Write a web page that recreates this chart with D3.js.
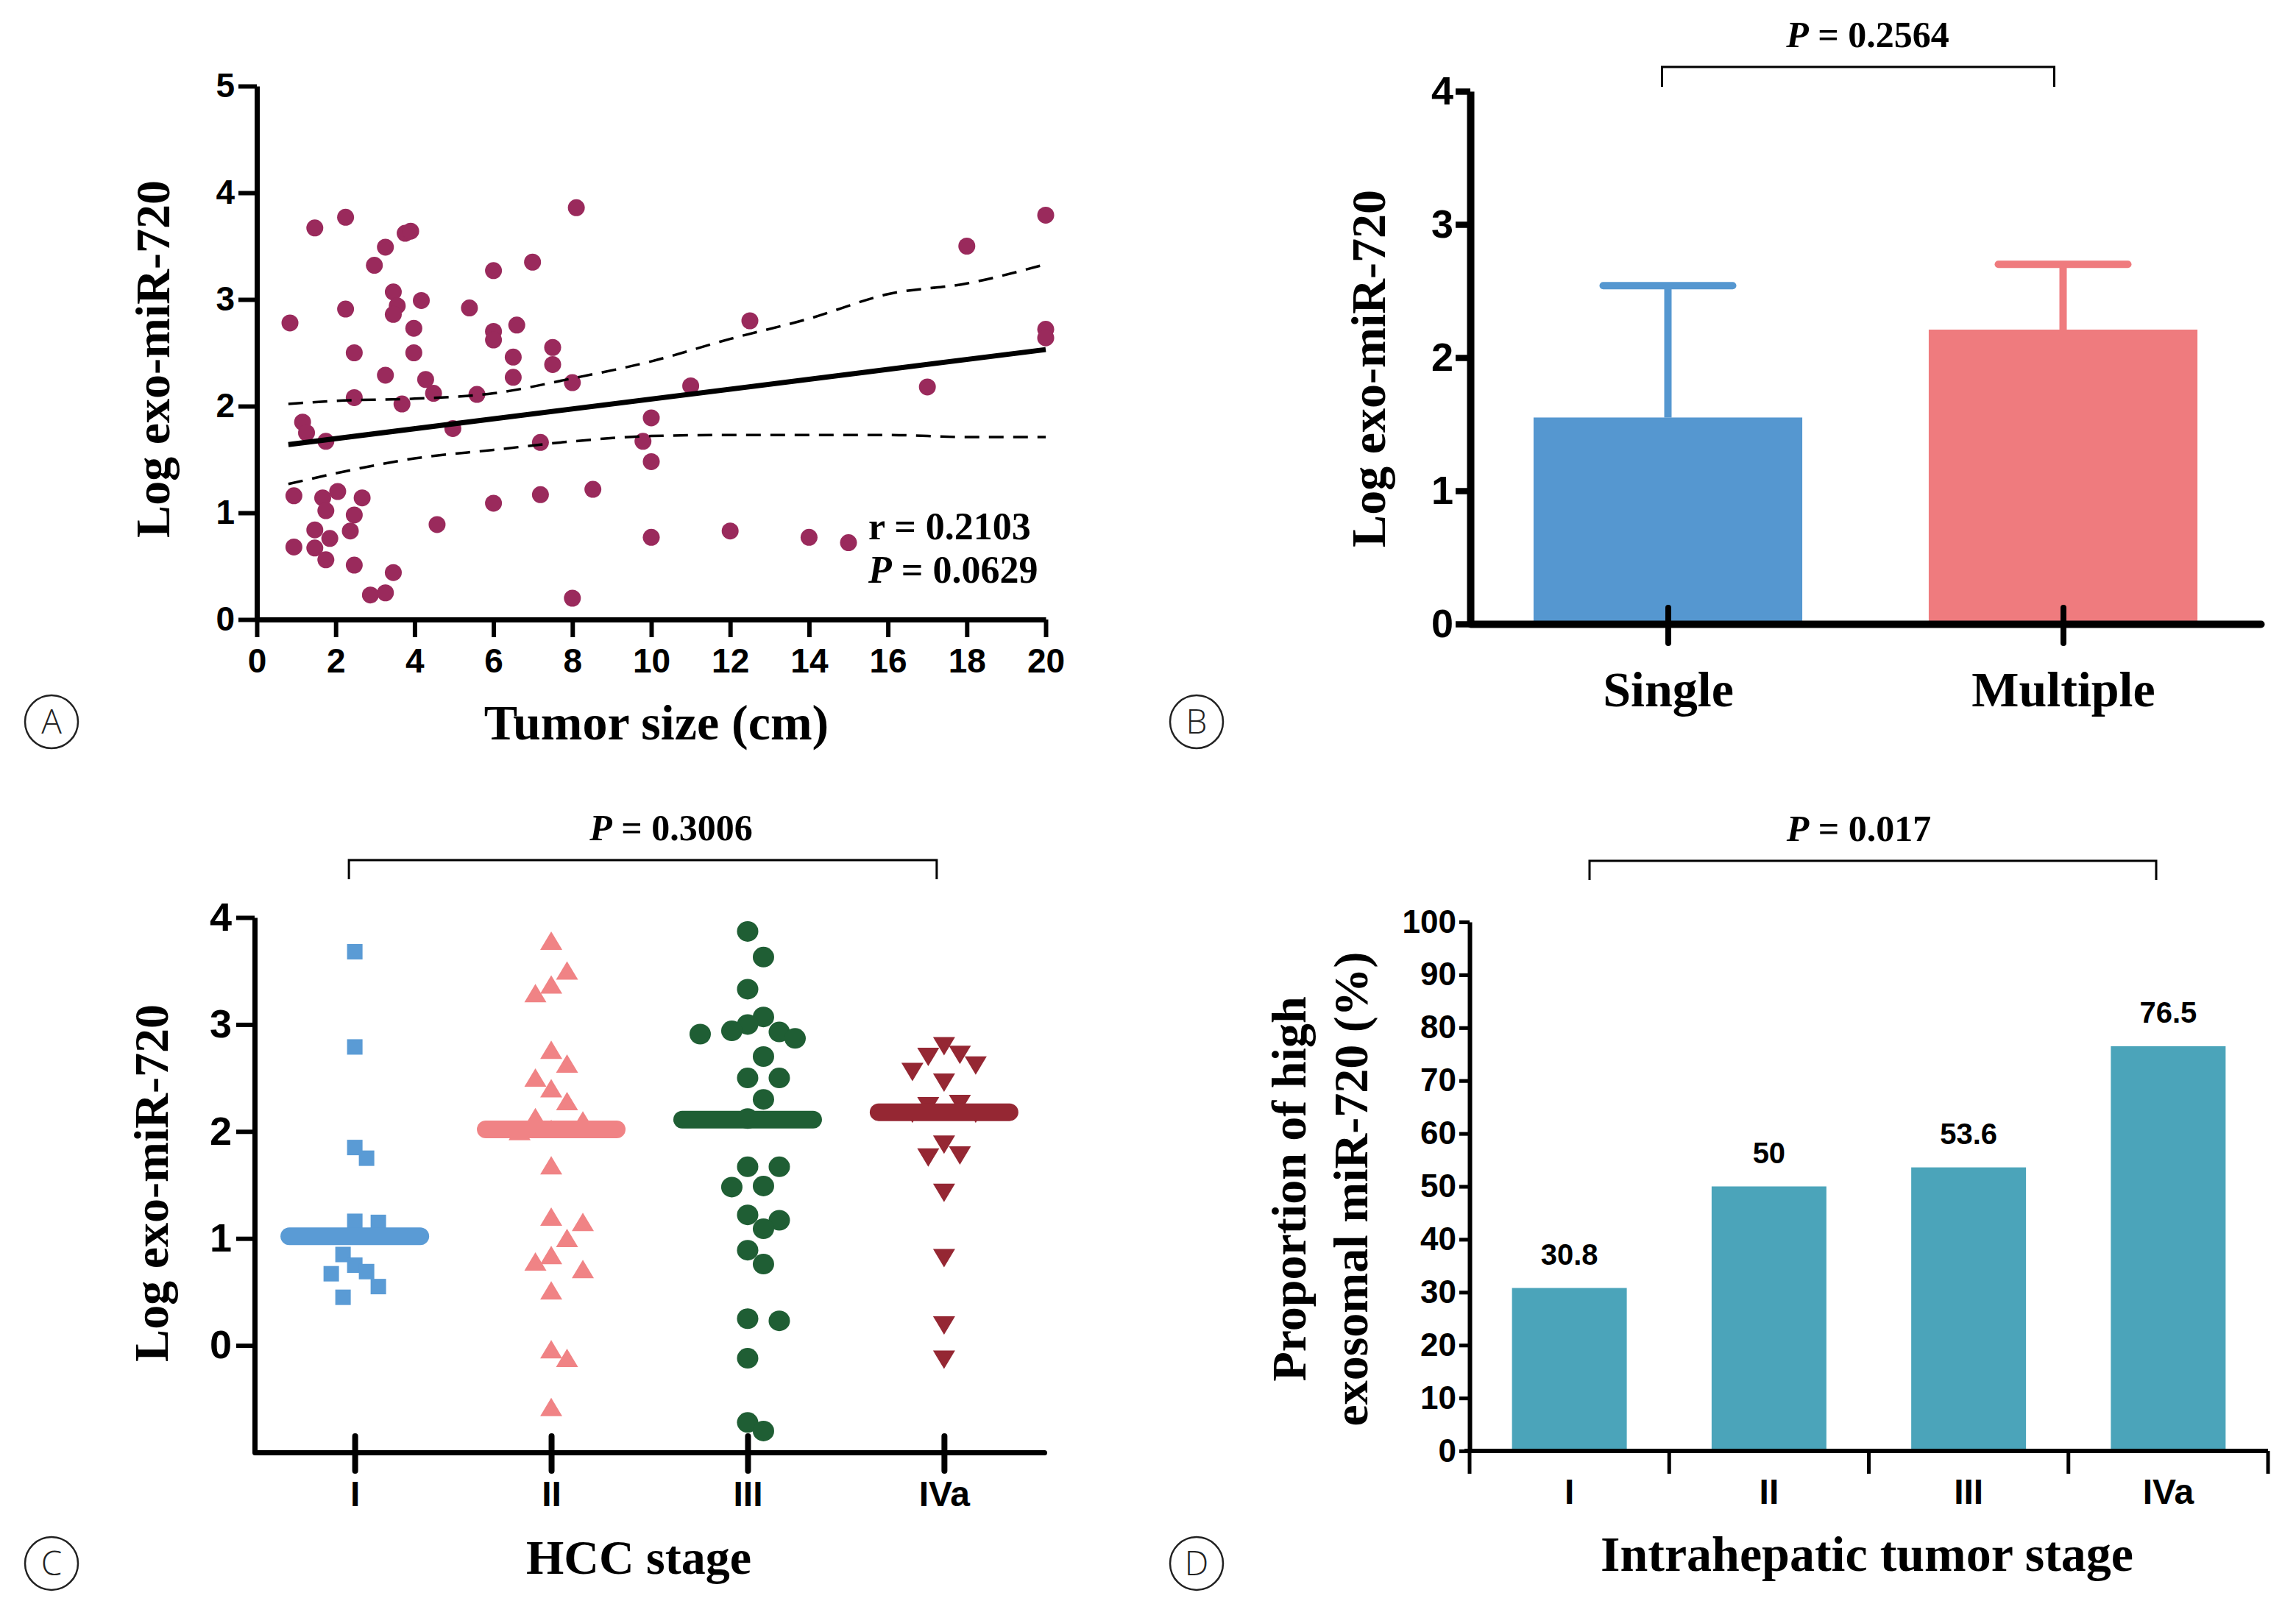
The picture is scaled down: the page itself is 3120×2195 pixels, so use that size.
<!DOCTYPE html>
<html>
<head>
<meta charset="utf-8">
<script src="https://cdn.jsdelivr.net/npm/d3@7"></script>
<style>
body { margin: 0; background: #fff; }
</style>
</head>
<body>
<div id="chart"></div>
<script>
// ---- panel A : tumor size vs log exo-miR-720
var tumorSize = [0.84, 1.47, 2.25, 2.25, 2.98, 3.26, 3.76, 3.9, 3.46, 3.56, 3.46, 4.17, 3.98, 3.98, 2.47, 3.26,
  2.47, 3.68, 4.28, 4.48, 5.39, 5.58, 4.97, 6.0, 6.0, 6.0, 6.59, 6.5, 6.5, 6.99, 7.5, 7.5, 8.0, 8.1, 7.19, 7.19,
  8.52, 6.0, 4.57, 8.0, 1.16, 1.26, 1.75, 0.94, 0.94, 1.67, 1.75, 2.05, 1.47, 1.47, 1.85, 1.75, 2.47, 2.67, 2.37,
  2.47, 2.88, 3.26, 3.46, 10.0, 9.79, 10.0, 10.0, 11.0, 12.0, 12.5, 14.0, 15.0, 17.0, 18.0, 20.0, 20.0, 20.0];
var logExoA = [2.78, 3.67, 3.77, 2.91, 3.32, 3.49, 3.62, 3.64, 3.07, 2.94, 2.86, 2.99, 2.73, 2.50, 2.50, 2.29,
  2.08, 2.02, 2.25, 2.12, 2.92, 2.11, 1.79, 3.27, 2.70, 2.62, 2.76, 2.46, 2.27, 3.35, 2.55, 2.39, 2.22, 3.86, 1.66, 1.17,
  1.22, 1.09, 0.89, 0.20, 1.85, 1.75, 1.67, 1.16, 0.68, 1.14, 1.02, 1.20, 0.84, 0.67, 0.76, 0.56, 0.98, 1.14, 0.83,
  0.51, 0.23, 0.25, 0.44, 1.89, 1.67, 1.48, 0.77, 2.19, 0.83, 2.80, 0.77, 0.72, 2.18, 3.50, 3.79, 2.72, 2.64];
var fitX = [0.8, 20];
var fitY = [1.64, 2.53];
var bandX = [0.8, 2, 4, 6, 8, 10, 12, 14, 16, 18, 20];
var bandUpper = [2.02, 2.05, 2.07, 2.12, 2.26, 2.42, 2.63, 2.82, 3.05, 3.15, 3.33];
var bandLower = [1.27, 1.37, 1.51, 1.59, 1.67, 1.72, 1.73, 1.73, 1.73, 1.71, 1.71];
var xTicksA = [0, 2, 4, 6, 8, 10, 12, 14, 16, 18, 20];
var yTicksA = [0, 1, 2, 3, 4, 5];

// ---- panel B : single vs multiple
var groupsB = ["Single", "Multiple"];
var meanB = [1.55, 2.21];
var sdB = [0.99, 0.49];
var yTicksB = [0, 1, 2, 3, 4];

// ---- panel C : HCC stage scatter
var stages = ["I", "II", "III", "IVa"];
var stageI = [3.68, 2.79, 1.85, 1.75, 1.16, 1.15, 1.02, 0.85, 0.75, 0.69, 0.67, 0.55, 0.45];
var stageII = [3.76, 3.48, 3.35, 3.27, 2.74, 2.61, 2.48, 2.38, 2.26, 2.11, 2.08, 2.0, 1.98, 1.66, 1.18, 1.13, 0.98,
  0.82, 0.76, 0.69, 0.49, -0.06, -0.14, -0.60];
var stageIII = [3.87, 3.63, 3.33, 3.07, 3.0, 2.94, 2.93, 2.91, 2.87, 2.70, 2.50, 2.50, 2.30, 2.12, 1.67, 1.67, 1.49,
  1.48, 1.22, 1.17, 1.09, 0.89, 0.76, 0.25, 0.23, -0.12, -0.72, -0.80];
var stageIVa = [2.82, 2.74, 2.72, 2.64, 2.58, 2.48, 2.28, 2.26, 2.19, 2.19, 1.90, 1.80, 1.78, 1.45, 0.84, 0.21, -0.11];
var mediansC = [1.02, 2.02, 2.11, 2.18];
var yTicksC = [0, 1, 2, 3, 4];

// ---- panel D : proportion of high exosomal miR-720
var proportionD = [30.8, 50, 53.6, 76.5];
var yTicksD = [0, 10, 20, 30, 40, 50, 60, 70, 80, 90, 100];

var serif = "'Liberation Serif','Times New Roman',serif";
var sans = "'Liberation Sans',Arial,sans-serif";
var narrow = "'Liberation Sans Narrow','Arial Narrow','Liberation Sans',Arial,sans-serif";
var intFmt = d3.format("d");

var svg = d3.select("#chart").append("svg")
  .attr("width", 3120).attr("height", 2195);
svg.append("rect").attr("width", 3120).attr("height", 2195).attr("fill", "#fff");

// helpers
function styleAxis(g, w, font, size) {
  g.select(".domain").attr("stroke", "#000").attr("stroke-width", w);
  g.selectAll(".tick line").attr("stroke", "#000").attr("stroke-width", w * 0.85);
  g.selectAll(".tick text").attr("fill", "#000").attr("font-family", font)
    .attr("font-weight", "bold").attr("font-size", size);
}

function pValue(x, y, val) {
  var t = svg.append("text").attr("x", x).attr("y", y).attr("text-anchor", "middle")
    .attr("font-family", serif).attr("font-weight", "bold").attr("font-size", 50);
  t.append("tspan").attr("font-style", "italic").text("P");
  t.append("tspan").text(" = " + val);
}

function bracket(x1, x2, yTop, yEnd) {
  svg.append("path")
    .attr("d", "M" + x1 + "," + yEnd + "V" + yTop + "H" + x2 + "V" + yEnd)
    .attr("fill", "none").attr("stroke", "#000").attr("stroke-width", 3);
}

function yTitle(x, y, txt) {
  svg.append("text").attr("transform", "translate(" + x + "," + y + ") rotate(-90)")
    .attr("text-anchor", "middle").attr("dominant-baseline", "central")
    .attr("font-family", serif).attr("font-weight", "bold").attr("font-size", 66).text(txt);
}

function panelLetter(x, y, l) {
  svg.append("circle").attr("cx", x).attr("cy", y).attr("r", 36)
    .attr("fill", "none").attr("stroke", "#222").attr("stroke-width", 2.5);
  svg.append("text").attr("x", x).attr("y", y + 16).attr("text-anchor", "middle")
    .attr("font-family", "'Open Sans','Noto Sans',sans-serif").attr("font-weight", 300)
    .attr("font-size", 46).attr("fill", "#222").text(l);
}

// beeswarm offsets: columns of width "step"; same column needs a big vertical gap,
// neighbouring columns only a small one
function swarm(values, yScale, step, minSame, minAdj) {
  var order = values.map(function(v, i){ return i; })
    .sort(function(a, b){ return values[b] - values[a]; });
  var placed = [], off = [];
  order.forEach(function(i){
    var py = yScale(values[i]);
    for (var k = 0; k < 30; k++) {
      var col = k === 0 ? 0 : (k % 2 ? 1 : -1) * Math.ceil(k / 2);
      var ok = placed.every(function(p){
        var dc = Math.abs(p.col - col), dy = Math.abs(p.y - py);
        if (dc === 0) return dy >= minSame;
        if (dc === 1) return dy >= minAdj;
        return true;
      });
      if (ok) { off[i] = col * step; placed.push({col: col, y: py}); break; }
    }
  });
  return off;
}

/* PANEL A ***********************************************************/
var xA = d3.scaleLinear().domain([0, 20]).range([349, 1421]);
var yA = d3.scaleLinear().domain([0, 5]).range([842, 117]);

var gxA = svg.append("g").attr("transform", "translate(0,842)")
  .call(d3.axisBottom(xA).tickValues(xTicksA).tickFormat(intFmt).tickSize(24).tickSizeOuter(0));
styleAxis(gxA, 7, sans, 46);
gxA.selectAll(".tick text").attr("y", 72).attr("dy", 0);

var gyA = svg.append("g").attr("transform", "translate(349,0)")
  .call(d3.axisLeft(yA).tickValues(yTicksA).tickFormat(intFmt).tickSize(25).tickSizeOuter(0).tickPadding(5));
styleAxis(gyA, 7, sans, 46);

svg.append("g").selectAll("circle")
  .data(tumorSize)
  .enter().append("circle")
    .attr("cx", function(d){ return xA(d); })
    .attr("cy", function(d, i){ return yA(logExoA[i]); })
    .attr("r", 11.5)
    .attr("fill", "#9a2a5c");

var lineA = d3.line()
  .x(function(d){ return xA(d[0]); })
  .y(function(d){ return yA(d[1]); })
  .curve(d3.curveMonotoneX);

svg.append("path").datum(fitX.map(function(x, i){ return [x, fitY[i]]; }))
  .attr("d", lineA).attr("fill", "none").attr("stroke", "#000").attr("stroke-width", 7);
[bandUpper, bandLower].forEach(function(b){
  svg.append("path").datum(bandX.map(function(x, i){ return [x, b[i]]; }))
    .attr("d", lineA).attr("fill", "none").attr("stroke", "#000")
    .attr("stroke-width", 3.5).attr("stroke-dasharray", "20,13");
});

svg.append("text").attr("x", 1180).attr("y", 733)
  .attr("font-family", serif).attr("font-weight", "bold").attr("font-size", 52)
  .text("r = 0.2103");
var pA = svg.append("text").attr("x", 1180).attr("y", 792)
  .attr("font-family", serif).attr("font-weight", "bold").attr("font-size", 52);
pA.append("tspan").attr("font-style", "italic").text("P");
pA.append("tspan").text(" = 0.0629");

yTitle(207, 488, "Log exo-miR-720");
svg.append("text").attr("x", 892).attr("y", 1005).attr("text-anchor", "middle")
  .attr("font-family", serif).attr("font-weight", "bold").attr("font-size", 68)
  .text("Tumor size (cm)");
panelLetter(70, 981, "A");

/* PANEL B ***********************************************************/
var colorsB = ["#5597d0", "#ef7b7e"];
var xB = d3.scalePoint().domain(groupsB).range([1998, 3072]).padding(0.5);
var yB = d3.scaleLinear().domain([0, 4]).range([848, 124]);
var barWB = xB.step() * 0.68;

svg.append("g").selectAll("rect")
  .data(groupsB)
  .enter().append("rect")
    .attr("x", function(d){ return xB(d) - barWB / 2; })
    .attr("y", function(d, i){ return yB(meanB[i]); })
    .attr("width", barWB)
    .attr("height", function(d, i){ return yB(0) - yB(meanB[i]); })
    .attr("fill", function(d, i){ return colorsB[i]; });

var errB = svg.append("g").selectAll("g").data(groupsB).enter().append("g");
errB.append("line")
  .attr("x1", function(d){ return xB(d); }).attr("x2", function(d){ return xB(d); })
  .attr("y1", function(d, i){ return yB(meanB[i]); })
  .attr("y2", function(d, i){ return yB(meanB[i] + sdB[i]); })
  .attr("stroke", function(d, i){ return colorsB[i]; }).attr("stroke-width", 10);
errB.append("line")
  .attr("x1", function(d){ return xB(d) - 88; }).attr("x2", function(d){ return xB(d) + 88; })
  .attr("y1", function(d, i){ return yB(meanB[i] + sdB[i]); })
  .attr("y2", function(d, i){ return yB(meanB[i] + sdB[i]); })
  .attr("stroke", function(d, i){ return colorsB[i]; }).attr("stroke-width", 10)
  .attr("stroke-linecap", "round");

var gyB = svg.append("g").attr("transform", "translate(1998,0)")
  .call(d3.axisLeft(yB).tickValues(yTicksB).tickFormat(intFmt).tickSize(20).tickSizeOuter(0).tickPadding(3));
styleAxis(gyB, 10, narrow, 54);

var gxB = svg.append("g").attr("transform", "translate(0,848)")
  .call(d3.axisBottom(xB).tickSize(26).tickSizeOuter(0));
styleAxis(gxB, 10, serif, 68);
gxB.select(".domain").attr("stroke-linecap", "round");
gxB.selectAll(".tick line").attr("y1", -22).attr("stroke-width", 8).attr("stroke-linecap", "round");
gxB.selectAll(".tick text").attr("y", 112).attr("dy", 0);

bracket(xB("Single") - 8, xB("Multiple") - 12, 91, 118);
pValue(2538, 64, "0.2564");
yTitle(1859, 501, "Log exo-miR-720");
panelLetter(1626, 981, "B");

/* PANEL C ***********************************************************/
var colorsC = ["#5a9bd5", "#f08385", "#1f5e34", "#952733"];
var stepsC = [16, 21.5, 21.5, 21.5];
var xC = d3.scalePoint().domain(stages).range([346, 1419]).padding(0.51);
var yC = d3.scaleLinear().domain([-1, 4]).range([1974, 1247]);

var gyC = svg.append("g").attr("transform", "translate(346,0)")
  .call(d3.axisLeft(yC).tickValues(yTicksC).tickFormat(intFmt).tickSize(25).tickSizeOuter(0).tickPadding(6));
styleAxis(gyC, 7, sans, 54);

var gxC = svg.append("g").attr("transform", "translate(0,1974)")
  .call(d3.axisBottom(xC).tickSize(25).tickSizeOuter(0));
styleAxis(gxC, 7, sans, 48);
gxC.select(".domain").attr("stroke-linecap", "round");
gxC.selectAll(".tick line").attr("y1", -22).attr("stroke-width", 8).attr("stroke-linecap", "round");
gxC.selectAll(".tick text").attr("y", 73).attr("dy", 0);

var seriesC = [stageI, stageII, stageIII, stageIVa];
seriesC.forEach(function(vals, s){
  var offs = swarm(vals, yC, stepsC[s], 46, 8);
  var cx = xC(stages[s]);
  var g = svg.append("g").attr("fill", colorsC[s]);
  var pts = g.selectAll(".pt").data(vals).enter();
  if (s === 0) {
    pts.append("rect").attr("x", function(d, i){ return cx + offs[i] - 10.5; })
      .attr("y", function(d){ return yC(d) - 10.5; })
      .attr("width", 21).attr("height", 21);
  } else if (s === 1) {
    pts.append("path").attr("d", function(d, i){
      var x = cx + offs[i], y = yC(d);
      return "M" + x + "," + (y - 16) + "L" + (x + 15) + "," + (y + 9) + "L" + (x - 15) + "," + (y + 9) + "Z";
    });
  } else if (s === 2) {
    pts.append("ellipse").attr("cx", function(d, i){ return cx + offs[i]; })
      .attr("cy", function(d){ return yC(d); }).attr("rx", 14.5).attr("ry", 14);
  } else {
    pts.append("path").attr("d", function(d, i){
      var x = cx + offs[i], y = yC(d);
      return "M" + x + "," + (y + 16) + "L" + (x + 15) + "," + (y - 9) + "L" + (x - 15) + "," + (y - 9) + "Z";
    });
  }
  svg.append("line")
    .attr("x1", cx - 89).attr("x2", cx + 89)
    .attr("y1", yC(mediansC[s])).attr("y2", yC(mediansC[s]))
    .attr("stroke", colorsC[s]).attr("stroke-width", 24).attr("stroke-linecap", "round");
});

bracket(xC("I") - 8, xC("IVa") - 10, 1169, 1195);
pValue(912, 1142, "0.3006");
yTitle(205, 1608, "Log exo-miR-720");
svg.append("text").attr("x", 868).attr("y", 2139).attr("text-anchor", "middle")
  .attr("font-family", serif).attr("font-weight", "bold").attr("font-size", 66)
  .text("HCC stage");
panelLetter(70, 2125, "C");

/* PANEL D ***********************************************************/
var xD = d3.scaleBand().domain(stages).range([1997, 3082]).paddingInner(0.425).paddingOuter(0.2125);
var yD = d3.scaleLinear().domain([0, 100]).range([1972, 1253]);

svg.append("g").selectAll("rect")
  .data(proportionD)
  .enter().append("rect")
    .attr("x", function(d, i){ return xD(stages[i]); })
    .attr("y", function(d){ return yD(d); })
    .attr("width", xD.bandwidth())
    .attr("height", function(d){ return yD(0) - yD(d); })
    .attr("fill", "#4ba4ba");

svg.append("g").selectAll("text")
  .data(proportionD)
  .enter().append("text")
    .attr("x", function(d, i){ return xD(stages[i]) + xD.bandwidth() / 2; })
    .attr("y", function(d){ return yD(d) - 32; })
    .attr("text-anchor", "middle")
    .attr("font-family", narrow).attr("font-weight", "bold").attr("font-size", 40)
    .text(function(d){ return d; });

var gyD = svg.append("g").attr("transform", "translate(1997,0)")
  .call(d3.axisLeft(yD).tickValues(yTicksD).tickFormat(intFmt).tickSize(14).tickSizeOuter(0).tickPadding(4));
styleAxis(gyD, 6, narrow, 44);

// boundary ticks between categories
var xDgrid = d3.scaleBand().domain(stages).range([1997, 3082]);
var gxD = svg.append("g").attr("transform", "translate(0,1972)")
  .call(d3.axisBottom(xDgrid).tickSize(0).tickSizeOuter(0));
styleAxis(gxD, 6, narrow, 48);
gxD.selectAll(".tick text").attr("y", 72).attr("dy", 0);
gxD.select(".domain").attr("d", "M1990,0H3082");
svg.append("g").selectAll("line")
  .data(d3.range(stages.length + 1))
  .enter().append("line")
    .attr("x1", function(d){ return 1997 + d * xDgrid.step(); })
    .attr("x2", function(d){ return 1997 + d * xDgrid.step(); })
    .attr("y1", 1972).attr("y2", 2003)
    .attr("stroke", "#000").attr("stroke-width", 5);

bracket(2160, 2930, 1170, 1196);
pValue(2526, 1143, "0.017");
yTitle(1751, 1616, "Proportion of high");
yTitle(1835, 1616, "exosomal miR-720 (%)");
svg.append("text").attr("x", 2537).attr("y", 2135).attr("text-anchor", "middle")
  .attr("font-family", serif).attr("font-weight", "bold").attr("font-size", 68)
  .text("Intrahepatic tumor stage");
panelLetter(1626, 2125, "D");
</script>
</body>
</html>
